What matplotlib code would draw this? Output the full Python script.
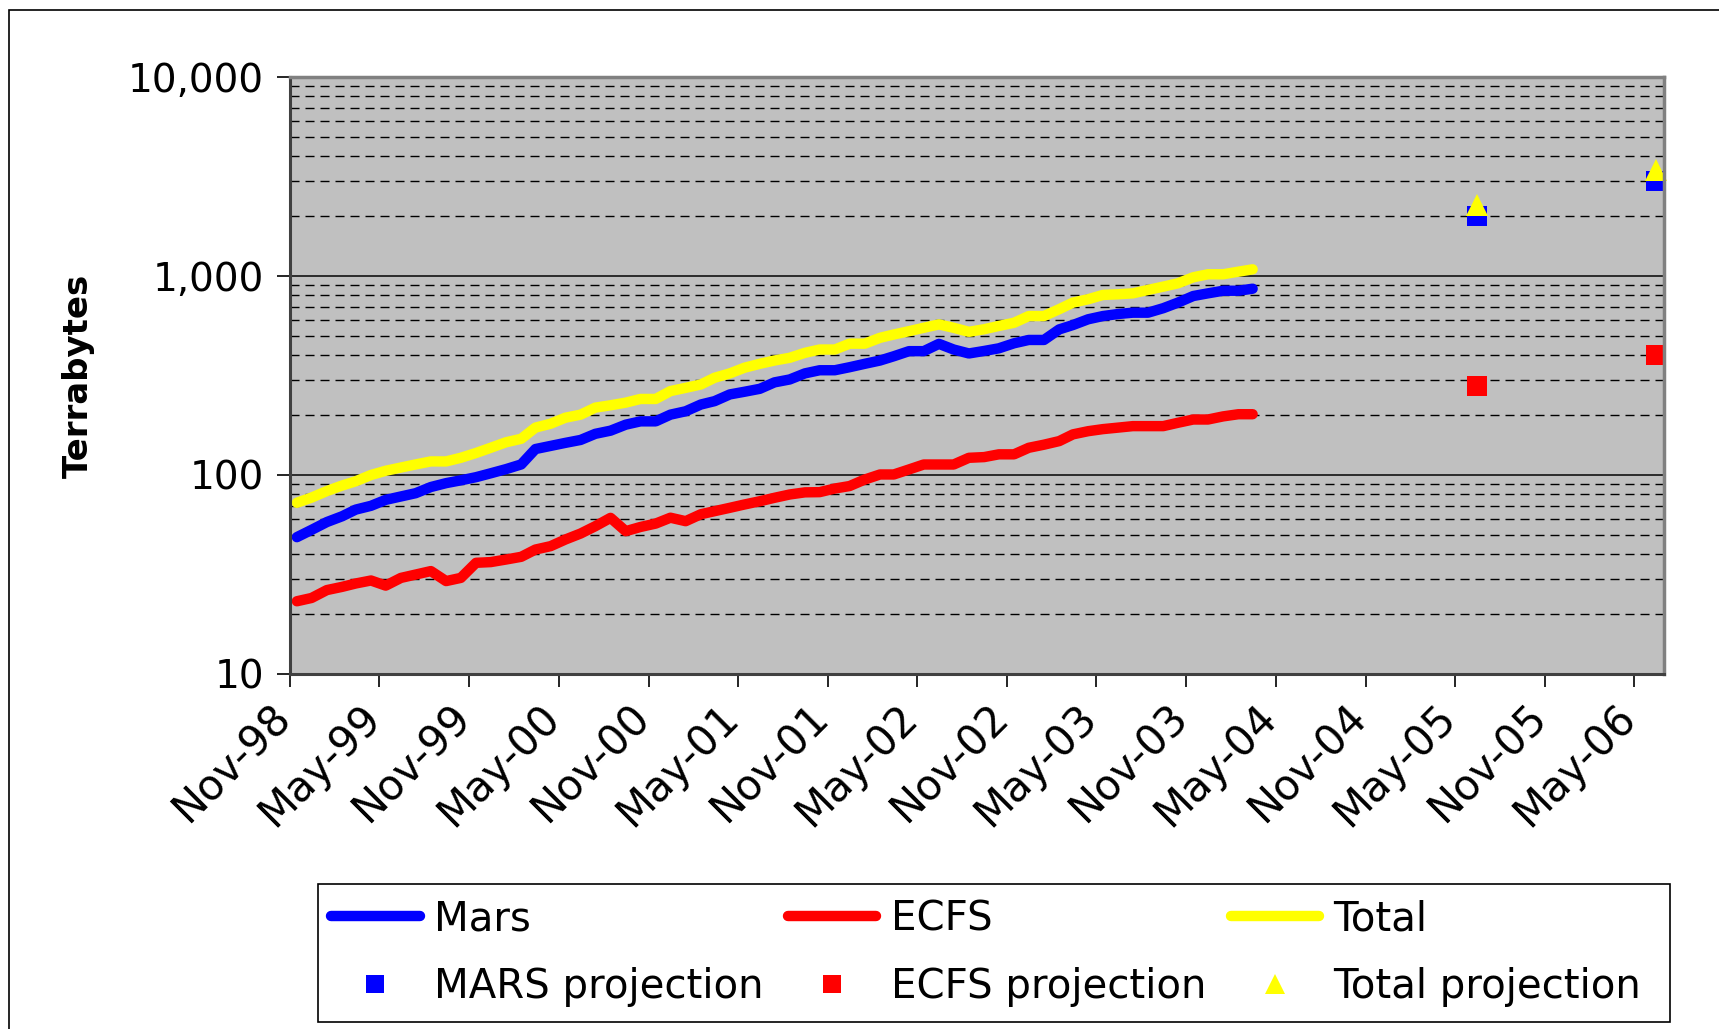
import matplotlib
matplotlib.use("Agg")
import matplotlib.pyplot as plt
import matplotlib.transforms as mtransforms
from matplotlib.ticker import FuncFormatter, LogLocator
from matplotlib.patches import Rectangle
import pandas as pd

plt.rcParams['font.family'] = ['DejaVu Sans']

# monthly archive sizes (TB), Nov-98 .. Mar-04
months = pd.date_range("1998-11-01", "2004-03-01", freq="MS") + pd.Timedelta(days=14)
mars = [48.7, 53, 58, 62, 67, 70, 75, 78, 81, 87, 91, 94, 97.5, 102, 107, 113,
        135, 140, 145, 150, 161, 167, 179, 186, 186, 201, 209, 226, 235, 254,
        262, 271, 292, 302, 324, 336, 336, 348, 362, 376, 395, 419, 419, 456,
        427, 408, 420, 433, 459, 477, 477, 539, 567, 606, 629, 644, 654, 654,
        689, 735, 793, 818, 843, 843, 863]
ecfs = [23.2, 24.1, 26.4, 27.4, 28.5, 29.5, 27.8, 30.4, 31.6, 32.9, 29.3, 30.4,
        36.2, 36.5, 37.6, 38.8, 42.2, 43.9, 47.4, 50.8, 55.3, 60.9, 52.2, 54.8,
        57, 61, 58.6, 63.5, 65.8, 68.4, 71.1, 73.8, 76.8, 79.8, 81.8, 82, 85.5,
        88, 94.9, 100.6, 100.6, 106.6, 112.9, 112.9, 112.9, 122, 123, 127, 127,
        137, 142, 148, 160, 166, 170, 173, 176, 176, 176, 183, 190, 190, 197,
        202, 202]
total = [72.5, 77, 83, 88.5, 93, 100, 105, 109, 113, 117, 117, 122, 129, 137,
         146, 152, 173, 181, 194, 201, 218, 224, 231, 241, 241, 264, 274, 285,
         308, 324, 346, 362, 376, 388, 411, 427, 427, 457, 457, 489, 508, 528,
         549, 571, 549, 524, 540, 561, 582, 629, 629, 681, 735, 764, 803, 809,
         818, 851, 884, 919, 985, 1020, 1020, 1051, 1080]

# projections
proj_dates = pd.to_datetime(["2005-06-15", "2006-06-15"])
mars_proj = [2000, 3000]
ecfs_proj = [280, 400]
total_proj = [2280, 3400]

tick_dates = pd.date_range("1998-11-01", "2006-05-01", freq="6MS")
tick_labels = [d.strftime("%b-%y") for d in tick_dates]
y_ticks = [10, 100, 1000, 10000]

fig = plt.figure(figsize=(17.19, 10.29), dpi=100)
ax = fig.add_axes([0.1687, 0.345, 0.7993, 0.5802])
ax.set_facecolor('#C0C0C0')
ax.set_yscale('log')
ax.set_ylim(10, 10000)
ax.set_xlim(pd.Timestamp("1998-11-01"), pd.Timestamp("2006-07-01"))

# grid
ax.set_axisbelow(True)
ax.yaxis.set_minor_locator(LogLocator(base=10, subs=range(2, 10)))
ax.grid(which='major', axis='y', color='#202020', lw=1.3, ls='-')
ax.grid(which='minor', axis='y', color='black', lw=1.0, ls=(0, (6.5, 4.3)))
ax.grid(which='major', axis='x', visible=False)

l1, = ax.plot(months, mars, color='#0000FF', lw=7.5, solid_capstyle='round',
              solid_joinstyle='round', label='Mars')
l2, = ax.plot(months, ecfs, color='#FF0000', lw=7.5, solid_capstyle='round',
              solid_joinstyle='round', label='ECFS')
l3, = ax.plot(months, total, color='#FFFF00', lw=7.5, solid_capstyle='round',
              solid_joinstyle='round', label='Total')
p1, = ax.plot(proj_dates, mars_proj, ls='none', marker='s', ms=14.5, mew=0,
              color='#0000FF', clip_on=False, label='MARS projection')
p2, = ax.plot(proj_dates, ecfs_proj, ls='none', marker='s', ms=14.5, mew=0,
              color='#FF0000', clip_on=False, label='ECFS projection')
p3, = ax.plot(proj_dates, total_proj, ls='none', marker='^', ms=16.5, mew=0,
              color='#FFFF00', clip_on=False, label='Total projection')

ax.set_yticks(y_ticks)
ax.yaxis.set_major_formatter(FuncFormatter(lambda v, p: f"{v:,.0f}"))
ax.tick_params(axis='y', which='major', direction='out', length=9.5, width=1.2,
               labelsize=28, pad=9)
ax.tick_params(axis='y', which='minor', length=0)
ax.set_xticks(tick_dates)
ax.set_xticklabels(tick_labels, rotation=45, ha='right', va='center',
                   rotation_mode='anchor')
ax.tick_params(axis='x', direction='out', length=9.5, width=1.2,
               labelsize=30, pad=17)
shift = mtransforms.ScaledTranslation(-5 / 100, 0, fig.dpi_scale_trans)
for lab in ax.get_xticklabels():
    lab.set_transform(lab.get_transform() + shift)

for s in ['left', 'bottom']:
    ax.spines[s].set_color('#404040')
    ax.spines[s].set_linewidth(2.2)
for s in ['top', 'right']:
    ax.spines[s].set_color('#808080')
    ax.spines[s].set_linewidth(2.5)

ax.set_ylabel('Terrabytes', fontsize=24.5, fontweight='bold')
ax.yaxis.set_label_coords(-0.142, 0.5)

# legend: frame drawn separately so it can be wider than the entries
handles = [l1, p1, l2, p2, l3, p3]
labels = [h.get_label() for h in handles]
leg = fig.legend(handles, labels, ncol=3, loc='upper left',
                 bbox_to_anchor=(0.1926, 0.1262), frameon=False,
                 fontsize=29, handlelength=2.2, handletextpad=0.36,
                 borderpad=0, labelspacing=0.7, columnspacing=0.6,
                 markerscale=0.85, borderaxespad=0)
fig.add_artist(Rectangle((318 / 1719, 1 - 1022 / 1029), 1352 / 1719, 138 / 1029,
                         transform=fig.transFigure, fill=False,
                         ec='black', lw=1.2))

# outer chart border (only top and left visible)
fig.add_artist(Rectangle((9 / 1719, -0.5), 2, 0.5 + 1 - 10 / 1029,
                         transform=fig.transFigure, fill=False,
                         ec='black', lw=1.2))

fig.savefig("out.png", dpi=100)
